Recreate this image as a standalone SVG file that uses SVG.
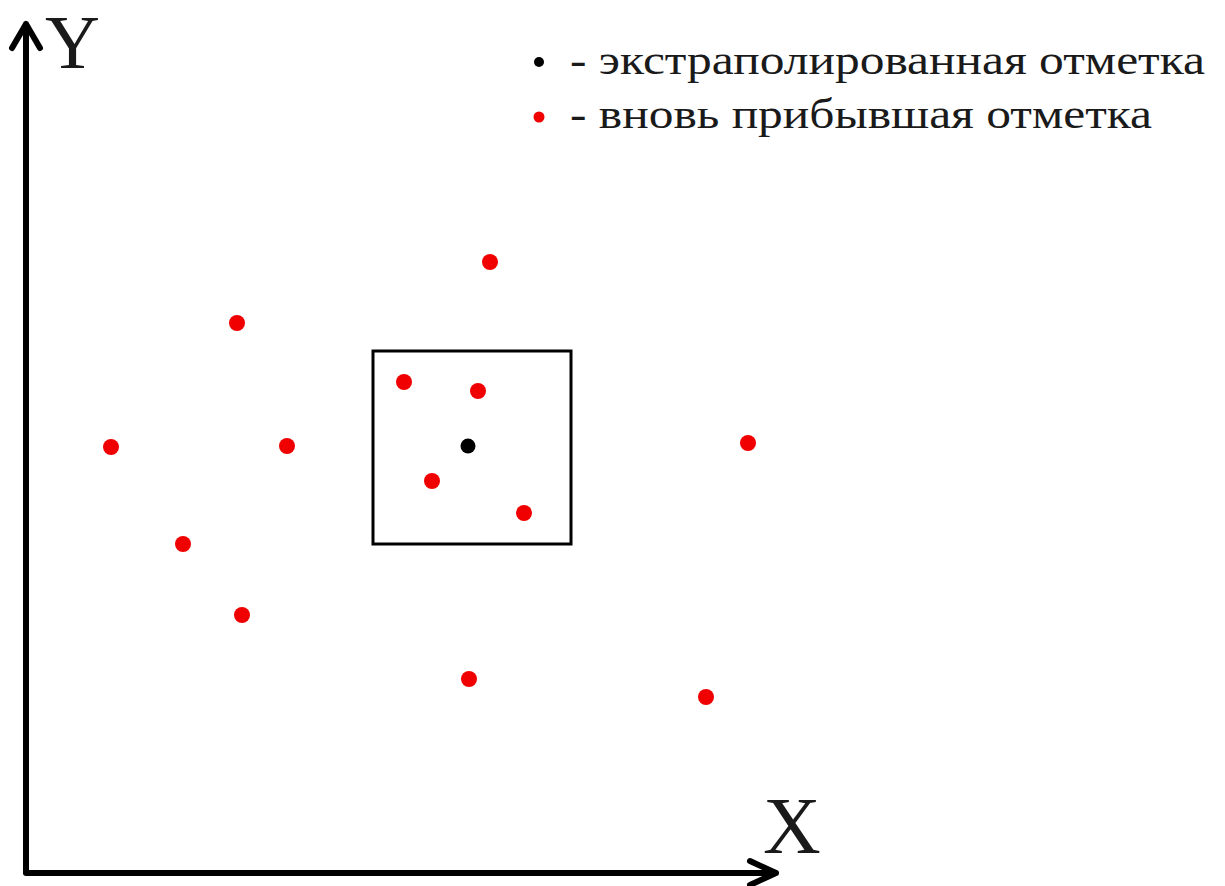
<svg xmlns="http://www.w3.org/2000/svg" width="1225" height="886" viewBox="0 0 1225 886">
<style>
.ax{fill:none;stroke:#000;stroke-width:6;stroke-linecap:round;stroke-linejoin:round}
.lbl{font-family:"Liberation Serif","Times New Roman",serif;fill:#1a1a1a}
.red{fill:#f00000}
.blk{fill:#000}
</style>
<rect width="1225" height="886" fill="#fff"/>
<g id="connectors">
<path class="ax" d="M26,872 L26,24 M12,48 L26,24 L40,48"/>
<path class="ax" d="M26,873 L776,873 M750,861 L776,873 L750,885"/>
</g>
<g id="axis-labels">
<text class="lbl" x="45" y="68" font-size="76">Y</text>
<text class="lbl" x="763" y="853" font-size="80">X</text>
</g>
<g id="legend">
<circle class="blk" cx="539" cy="62" r="5"/>
<text class="lbl" x="570" y="74" font-size="43" textLength="635" lengthAdjust="spacingAndGlyphs">- экстраполированная отметка</text>
<circle class="red" cx="539" cy="117" r="5.5"/>
<text class="lbl" x="570" y="128" font-size="43" textLength="582" lengthAdjust="spacingAndGlyphs">- вновь прибывшая отметка</text>
</g>
<g id="box">
<rect x="373" y="351" width="198" height="193" fill="none" stroke="#000" stroke-width="3"/>
</g>
<g id="extrapolated">
<circle class="blk" cx="468" cy="446" r="7.5"/>
</g>
<g id="new-marks">
<circle class="red" cx="404" cy="382" r="8"/>
<circle class="red" cx="478" cy="391" r="8"/>
<circle class="red" cx="432" cy="481" r="8"/>
<circle class="red" cx="524" cy="513" r="8"/>
<circle class="red" cx="490" cy="262" r="8"/>
<circle class="red" cx="237" cy="323" r="8"/>
<circle class="red" cx="111" cy="447" r="8"/>
<circle class="red" cx="287" cy="446" r="8"/>
<circle class="red" cx="748" cy="443" r="8"/>
<circle class="red" cx="183" cy="544" r="8"/>
<circle class="red" cx="242" cy="615" r="8"/>
<circle class="red" cx="469" cy="679" r="8"/>
<circle class="red" cx="706" cy="697" r="8"/>
</g>
</svg>
